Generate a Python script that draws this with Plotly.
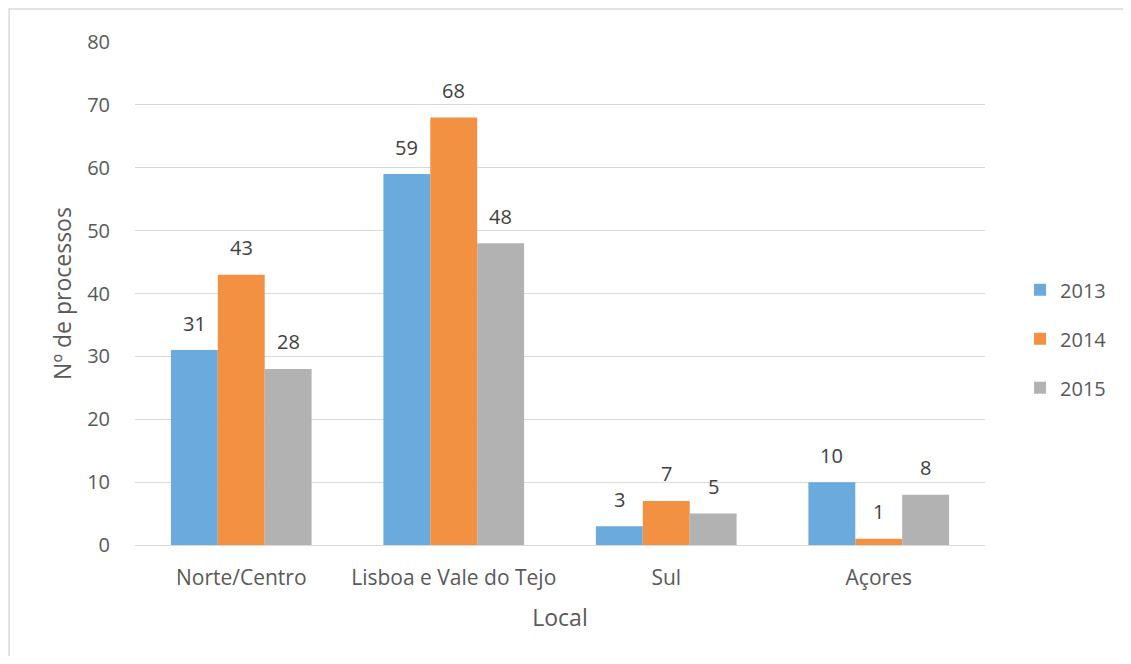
import plotly.graph_objects as go

categories = ["Norte/Centro", "Lisboa e Vale do Tejo", "Sul", "Açores"]
years = ["2013", "2014", "2015"]
v2013 = [31, 59, 3, 10]
v2014 = [43, 68, 7, 1]
v2015 = [28, 48, 5, 8]
colors = ["#6aaadc", "#f29141", "#b2b2b2"]

FONT = "Open Sans, sans-serif"
W, H = 1115, 648
ML, MR, MT, MB = 127, 137, 34, 111
BARGAP = 0.338
plot_w = W - ML - MR
bar_px = plot_w / len(categories) * (1 - BARGAP) / len(years)

fig = go.Figure()
series = [v2013, v2014, v2015]
for i, (name, vals) in enumerate(zip(years, series)):
    fig.add_trace(go.Bar(
        x=categories, y=vals, name=name,
        marker=dict(color=colors[i], line=dict(width=0)),
        legendgroup=name,
    ))
    for c, v in zip(categories, vals):
        fig.add_annotation(x=c, y=v, text=str(v), showarrow=False,
                           xshift=(i - 1) * bar_px, yshift=27, yanchor="middle",
                           font=dict(size=20, color="#404040", family=FONT))

fig.update_layout(
    width=W, height=H,
    margin=dict(l=ML, r=MR, t=MT, b=MB),
    paper_bgcolor="white", plot_bgcolor="white",
    barmode="group", bargap=BARGAP, bargroupgap=0,
    font=dict(family=FONT, color="#595959", size=20),
    showlegend=True,
    legend=dict(x=1.040, y=0.41, xanchor="left", yanchor="middle",
                traceorder="grouped", tracegroupgap=20,
                font=dict(size=20, color="#595959")),
    xaxis=dict(title=dict(text="Local", font=dict(size=23, color="#595959"), standoff=19),
               tickfont=dict(size=21), showline=False, ticks="", showgrid=False,
               ticklabelstandoff=18),
    yaxis=dict(title=dict(text="Nº de processos", font=dict(size=23, color="#595959"), standoff=9),
               range=[0, 80], dtick=10, tickfont=dict(size=20),
               showgrid=True, gridcolor="#d9d9d9", gridwidth=1,
               zeroline=True, zerolinecolor="#d9d9d9", zerolinewidth=1,
               ticks="", ticklen=0, showline=False, ticklabelstandoff=24),
)
fig.add_shape(type="rect", xref="paper", yref="paper",
              x0=-(ML - 1) / plot_w, x1=(W + 20 - ML) / plot_w,
              y0=-(MB + 20) / (H - MT - MB), y1=(H - MB - 1) / (H - MT - MB),
              line=dict(color="#d9d9d9", width=1.5), fillcolor="rgba(0,0,0,0)", layer="below")
fig.write_html("out.html")
